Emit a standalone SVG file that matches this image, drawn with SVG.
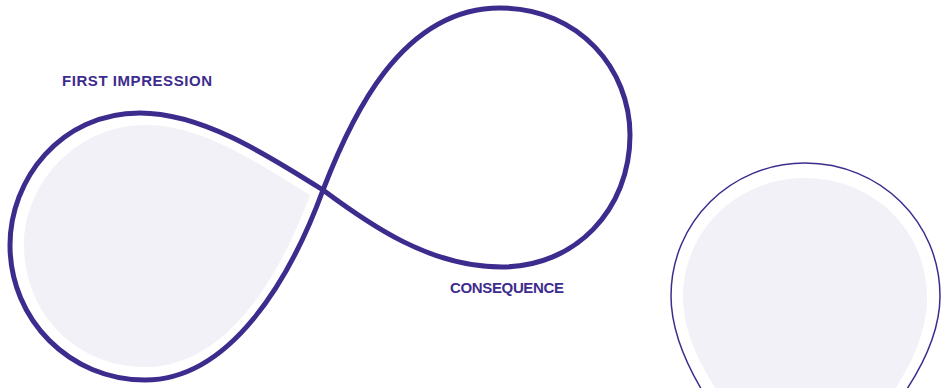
<svg xmlns="http://www.w3.org/2000/svg" width="941" height="388" viewBox="0 0 941 388">
<style>
.lbl{font-family:"Liberation Sans",Arial,sans-serif;font-weight:bold;font-size:15px;fill:#3d2c8d}
.fill{fill:#f2f1f8;stroke:none}
.line{fill:none;stroke:#3d2c8d;stroke-linejoin:round}
</style>
<rect width="941" height="388" fill="#ffffff"/>
<g id="first-impression-bg">
<path class="fill" d="M 310 195 C 250 158, 200 125, 145 125 C 75 125, 24 185, 24 245 C 24 315, 78 367, 145 367 C 220 367, 275 290, 310 195 Z"/>
</g>
<g id="consequence-bulb">
<path class="fill" d="M 718 392 C 698 362, 683 330, 683 297 C 683 230, 738 178, 805 178 C 873 178, 927 230, 927 298 C 927 330, 913 362, 893 392 Z"/>
<path class="line" stroke-width="1.5" d="M 703 392 C 685 362, 671 330, 671 296 C 671 222, 731 163, 805 163 C 880 163, 940 222, 940 296 C 940 330, 925 362, 905 392"/>
</g>
<g id="connectors">
<path class="line" stroke-width="5" d="M 323 190 C 350 120, 400 8, 500 8 C 580 8, 630 70, 630 135 C 630 210, 575 267, 502 267 C 430 267, 370 225, 323 190 C 263 152, 200 113, 140 113 C 60 113, 10 180, 10 245 C 10 320, 70 380, 145 380 C 230 380, 290 280, 323 190 Z"/>
</g>
<g id="labels">
<text class="lbl" x="62" y="86" textLength="150" lengthAdjust="spacing">FIRST IMPRESSION</text>
<text class="lbl" x="450" y="293" textLength="114" lengthAdjust="spacing">CONSEQUENCE</text>
</g>
</svg>
